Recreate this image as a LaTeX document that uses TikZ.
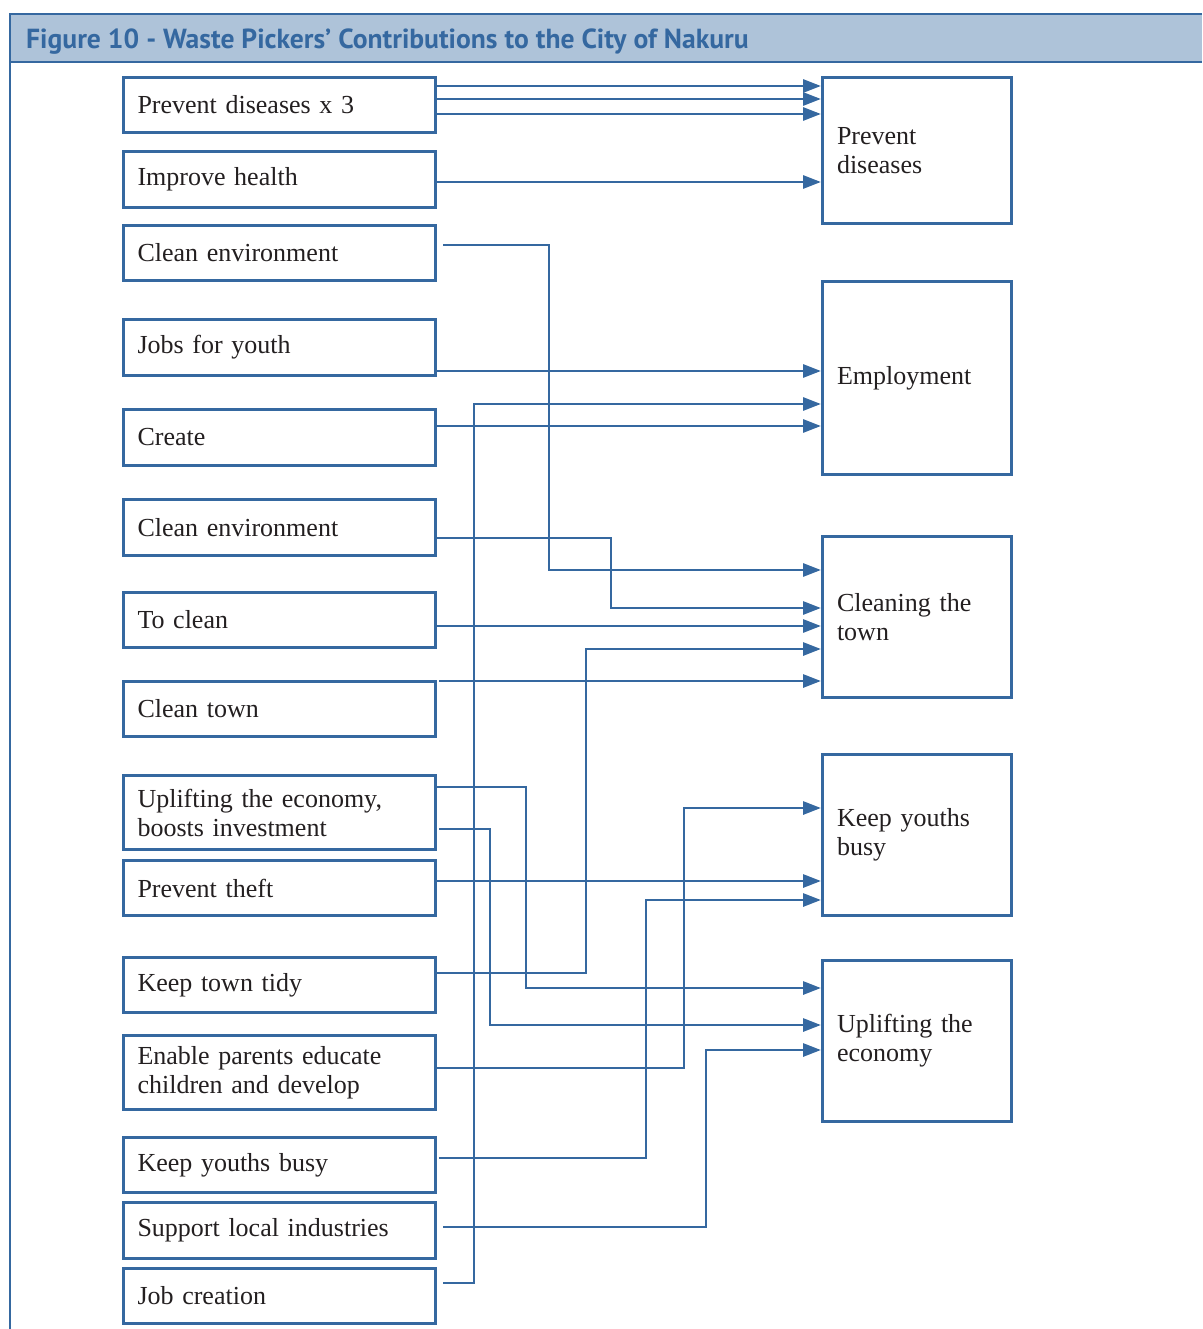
\documentclass[tikz,border=0pt]{standalone}
\usepackage{fontspec}
\usepackage{xcolor}
\usepackage{tikz}
\usetikzlibrary{calc}
\usetikzlibrary{arrows.meta}

\setmainfont{Liberation Serif}
\newfontfamily\titlefont{PT Sans}
\definecolor{wpblue}{HTML}{3568A0}
\definecolor{wphead}{HTML}{AEC3D9}
\definecolor{wptext}{HTML}{231F20}

\begin{document}
\begin{tikzpicture}[
    x = 1pt,
    y = -1pt,
    font = \fontsize{26}{29}\selectfont,
    leftf/.style = {
      rectangle,
      draw=wpblue,
      line width=3pt,
      anchor=north west,
      minimum width=312,
      text width=284,
      inner xsep=14,
      align=left,
      text=wptext
    },
    rightf/.style = {
      rectangle,
      draw=wpblue,
      line width=3pt,
      anchor=north west,
      minimum width=189,
      text width=160,
      inner xsep=14,
      align=left,
      text=wptext
    },
    conn/.style = {
      draw=wpblue,
      line width=2.9pt,
      -{Triangle[length=18pt,width=13pt]}
    }
  ]
    \useasboundingbox (0,0) rectangle (1202,1329);
    \fill[wphead] (10,14) rectangle (1202,62);
    \draw[wpblue, line width=1.5pt] (1202,14) -- (10,14) -- (10,1329);
    \draw[wpblue, line width=1.5pt] (10,62) -- (1202,62);
    \node[anchor=west, text=wpblue, inner sep=0] (title) at (26,42)
      {\titlefont\bfseries\fontsize{27.6}{30}\selectfont Figure 10 - Waste Pickers’ Contributions to the City of Nakuru};

    \node[leftf, minimum height=55] (l1) at (122,76) {Prevent diseases x 3};
    \node[leftf, minimum height=56] (l2) at (122,150) {Improve health};
    \node[leftf, minimum height=55] (l3) at (122,224) {Clean environment};
    \node[leftf, minimum height=56] (l4) at (122,318) {Jobs for youth};
    \node[leftf, minimum height=56] (l5) at (122,408) {Create};
    \node[leftf, minimum height=56] (l6) at (122,498) {Clean environment};
    \node[leftf, minimum height=55] (l7) at (122,591) {To clean};
    \node[leftf, minimum height=55] (l8) at (122,680) {Clean town};
    \node[leftf, minimum height=74] (l9) at (122,774) {Uplifting the economy,\\boosts investment};
    \node[leftf, minimum height=55] (l10) at (122,859) {Prevent theft};
    \node[leftf, minimum height=55] (l11) at (122,956) {Keep town tidy};
    \node[leftf, minimum height=74] (l12) at (122,1034) {Enable parents educate\\children and develop};
    \node[leftf, minimum height=55] (l13) at (122,1136) {Keep youths busy};
    \node[leftf, minimum height=56] (l14) at (122,1201) {Support local industries};
    \node[leftf, minimum height=55] (l15) at (122,1267) {Job creation};

    \node[rightf, minimum height=146] (prev) at (821,76) {Prevent\\diseases};
    \node[rightf, minimum height=193] (empl) at (821,280) {Employment};
    \node[rightf, minimum height=161] (clean) at (821,535) {Cleaning the\\town};
    \node[rightf, minimum height=161] (busy) at (821,753) {Keep youths\\busy};
    \node[rightf, minimum height=161] (upl) at (821,959) {Uplifting the\\economy};

    \draw[conn] (l1.east |- 0,86) -- (prev.west |- 0,86);
    \draw[conn] (l1.east |- 0,99) -- (prev.west |- 0,99);
    \draw[conn] (l1.east |- 0,114) -- (prev.west |- 0,114);
    \draw[conn] (l2.east |- 0,182) -- (prev.west |- 0,182);

    \draw[conn] ([xshift=6]l3.east |- 0,245) -| (549,570) -- (clean.west |- 0,570);
    \draw[conn] (l4.east |- 0,371) -- (empl.west |- 0,371);
    \draw[conn] ([xshift=6]l15.east |- 0,1283) -| (474,404) -- (empl.west |- 0,404);
    \draw[conn] (l5.east |- 0,426) -- (empl.west |- 0,426);

    \draw[conn] (l6.east |- 0,538) -| (611,608) -- (clean.west |- 0,608);
    \draw[conn] (l7.east |- 0,626) -- (clean.west |- 0,626);
    \draw[conn] (l11.east |- 0,973) -| (586,649) -- (clean.west |- 0,649);
    \draw[conn] ([xshift=2]l8.east |- 0,681) -- (clean.west |- 0,681);

    \draw[conn] (l9.east |- 0,787) -| (526,988) -- (upl.west |- 0,988);
    \draw[conn] ([xshift=2]l9.east |- 0,829) -| (490,1025) -- (upl.west |- 0,1025);
    \draw[conn] ([xshift=6]l14.east |- 0,1227) -| (706,1050) -- (upl.west |- 0,1050);

    \draw[conn] (l10.east |- 0,881) -- (busy.west |- 0,881);
    \draw[conn] (l12.east |- 0,1068) -| (684,808) -- (busy.west |- 0,808);
    \draw[conn] ([xshift=2]l13.east |- 0,1158) -| (646,900) -- (busy.west |- 0,900);
  \end{tikzpicture}
\end{document}
